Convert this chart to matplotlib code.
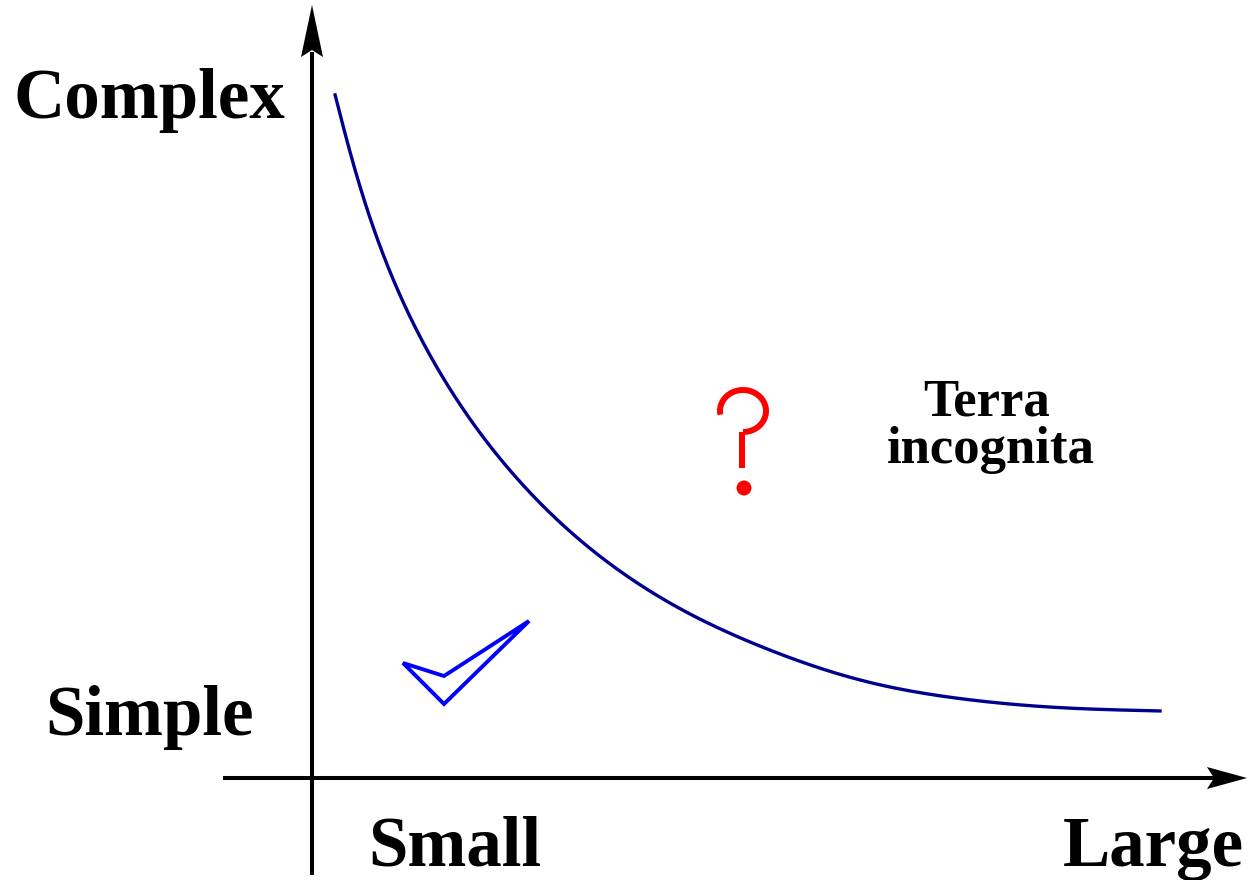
import numpy as np
import matplotlib
matplotlib.use("Agg")
import matplotlib.pyplot as plt
from matplotlib.patches import Polygon, Circle

# ---- data (pixel space of the 1247x880 canvas, y downward) ----
curve_x = [334.7, 346, 364.3, 386.7, 416.7, 455, 493.3, 526.7, 560, 593.3,
           626.7, 660, 693.3, 726.7, 760, 806.7, 840, 873.3, 906.7, 940,
           973.3, 1006.7, 1040, 1073.3, 1106.7, 1161.7]
curve_y = [93.3, 146.7, 213.3, 280, 345, 408, 456.7, 493.3, 526.7, 555,
           578.3, 600, 618.3, 633.3, 647.5, 665.5, 676.7, 685, 691.7, 696.7,
           701, 704.3, 707.3, 709, 710.3, 711]

check_x = [403, 444, 529, 444]
check_y = [663, 676, 621, 704]

axis_labels = ["Complex", "Simple", "Small", "Large"]
label_x = [149, 150, 455, 1153]
label_y = [118, 735, 866, 866]

terra_lines = ["Terra", "incognita"]
terra_x = [987, 991]
terra_y = [415, 463]


def smooth_path(xs, ys, n=20, iters=3):
    """Light Laplacian smoothing of the read points, then a cubic B-spline."""
    P = np.column_stack([xs, ys]).astype(float)
    for _ in range(iters):
        Q = P.copy()
        Q[1:-1] = 0.25 * P[:-2] + 0.5 * P[1:-1] + 0.25 * P[2:]
        P = Q
    P = np.vstack([P[0], P[0], P, P[-1], P[-1]])
    t = np.linspace(0, 1, n, endpoint=False)[:, None]
    b0 = (1 - t) ** 3 / 6
    b1 = (3 * t ** 3 - 6 * t ** 2 + 4) / 6
    b2 = (-3 * t ** 3 + 3 * t ** 2 + 3 * t + 1) / 6
    b3 = t ** 3 / 6
    out = [b0 * P[i] + b1 * P[i + 1] + b2 * P[i + 2] + b3 * P[i + 3]
           for i in range(len(P) - 3)]
    out.append(P[-1][None, :])
    out = np.vstack(out)
    return out[:, 0], out[:, 1]


W, H = 1247, 880
fig = plt.figure(figsize=(W / 100, H / 100), dpi=100)
ax = fig.add_axes([0, 0, 1, 1])
ax.set_xlim(0, W)
ax.set_ylim(H, 0)
ax.axis("off")

black = "black"
axis_lw = 2.9

# vertical axis with arrow
ax.plot([312, 312], [875, 52], color=black, lw=axis_lw, solid_capstyle="butt")
ax.add_patch(Polygon([[312, 5], [323, 57], [312, 50], [301, 57]],
                     closed=True, color=black, lw=0))
# horizontal axis with arrow
ax.plot([223, 1214], [778, 778], color=black, lw=axis_lw, solid_capstyle="butt")
ax.add_patch(Polygon([[1247, 778], [1207, 789], [1214, 778], [1207, 767]],
                     closed=True, color=black, lw=0))

# curve
sx, sy = smooth_path(curve_x, curve_y)
ax.plot(sx, sy, color="#00008f", lw=2.4, solid_capstyle="butt")

# check mark
ax.add_patch(Polygon(list(zip(check_x, check_y)), closed=True,
                     facecolor="white", edgecolor="#0000ff", lw=2.8,
                     joinstyle="miter"))

# question mark
red = "#ff0000"
cx, cy, rx, ry = 743, 411, 23, 21
t = np.radians(np.linspace(190, -90, 80))
ax.plot(cx + rx * np.cos(t), cy - ry * np.sin(t), color=red, lw=4.3,
        solid_capstyle="butt")
ax.plot([742, 742], [432, 468], color=red, lw=4.3, solid_capstyle="butt")
ax.add_patch(Circle((744, 488), 7.5, color=red, lw=0))

font = dict(family="Liberation Serif", weight="bold", color=black)
for s, x, y in zip(axis_labels, label_x, label_y):
    ax.text(x, y, s, ha="center", va="baseline", fontsize=51, **font)
for s, x, y in zip(terra_lines, terra_x, terra_y):
    ax.text(x, y, s, ha="center", va="baseline", fontsize=38, **font)

fig.savefig("out.png", dpi=100)
